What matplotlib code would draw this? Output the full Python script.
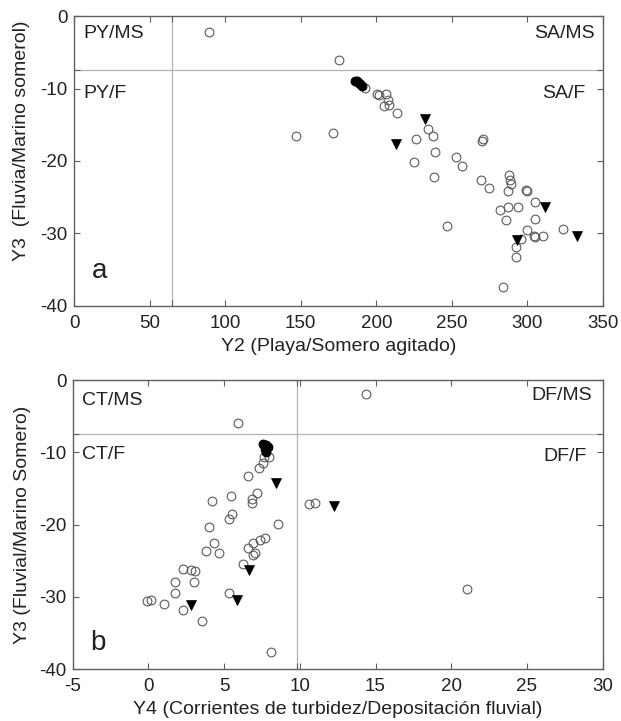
"""Two-panel discriminant scatter: Y3 against Y2 (a) and against Y4 (b)."""
import matplotlib
matplotlib.use("Agg")
import matplotlib.pyplot as plt

plt.rcParams["font.family"] = ["Liberation Sans", "DejaVu Sans"]
plt.rcParams["axes.unicode_minus"] = False  # plain hyphen, like the original

# ---- panel a: Y2 vs Y3 ----
a_open_x = [89.6, 175.4, 147.1, 171.4, 192.6, 200.3, 201.8, 206.5, 208.0, 205.4,
            208.7, 213.5, 234.0, 237.8, 226.5, 270.5, 270.0, 239.0, 225.0, 252.4,
            257.0, 238.3, 269.0, 274.4, 287.9, 288.5, 289.2, 287.4, 299.1, 299.6,
            305.1, 281.5, 286.8, 293.4, 285.9, 305.1, 246.6, 299.6, 304.0, 305.0,
            310.6, 323.8, 295.6, 292.5, 292.5, 284.1]
a_open_y = [-2.2, -6.1, -16.6, -16.1, -9.9, -10.7, -10.9, -10.8, -11.6, -12.4,
            -12.3, -13.4, -15.6, -16.5, -17.0, -16.9, -17.3, -18.8, -20.2, -19.4,
            -20.7, -22.2, -22.6, -23.7, -21.9, -22.6, -23.2, -24.1, -24.0, -24.1,
            -25.6, -26.7, -26.3, -26.4, -28.2, -28.0, -28.9, -29.5, -30.4, -30.5,
            -30.4, -29.4, -30.8, -31.8, -33.3, -37.4]
a_dense_x = [186.0, 187.5, 188.5, 189.5, 190.5]
a_dense_y = [-8.9, -9.0, -9.2, -9.4, -9.6]
a_tri_x = [232.3, 212.7, 311.9, 332.7, 293.0]
a_tri_y = [-14.2, -17.6, -26.4, -30.3, -30.9]

# ---- panel b: Y4 vs Y3 ----
b_open_x = [5.9, 7.64, 7.99, 7.6, 7.3, 6.6, 7.15, 6.86, 6.84, 5.44,
            4.22, 5.5, 5.34, 4.02, 8.54, 4.33, 3.78, 4.64, 6.56, 6.93,
            7.37, 7.70, 7.04, 6.93, 6.27, 2.29, 2.81, 3.08, 1.78, 3.03,
            1.78, 5.34, -0.07, 0.15, 1.03, 2.3, 3.56, 8.08, 14.4, 10.63,
            11.0, 21.06]
b_open_y = [-5.9, -10.6, -10.7, -11.5, -12.2, -13.3, -15.6, -16.4, -17.0, -16.1,
            -16.7, -18.5, -19.2, -20.4, -19.9, -22.5, -23.7, -24.0, -23.2, -22.6,
            -22.1, -21.9, -24.0, -24.2, -25.5, -26.2, -26.3, -26.5, -28.0, -27.9,
            -29.5, -29.5, -30.6, -30.5, -31.0, -31.9, -33.3, -37.6, -2.0, -17.2,
            -17.0, -28.9]
b_dense_x = [7.6, 7.8, 7.9, 7.7, 7.8]
b_dense_y = [-8.8, -9.0, -9.3, -9.6, -9.9]
b_tri_x = [8.4, 12.26, 6.64, 5.87, 2.79]
b_tri_y = [-14.2, -17.5, -26.3, -30.4, -31.2]

# ---- divider lines and quadrant names ----
Y3_CUT = -7.5
A_CUT = 65.0
B_CUT = 9.8
a_quads = ["PY/MS", "PY/F", "SA/MS", "SA/F"]
b_quads = ["CT/MS", "CT/F", "DF/MS", "DF/F"]

EDGE = "#5a5a5a"
LINE = "#b4b4b4"
INK = "#222222"


def draw_panel(ax, ox, oy, dx, dy, tx, ty, cut_x, quads, quad_pos, letter,
               letter_y, xlim, xticks, xlabel, ylabel, ylabel_pos):
    ax.axhline(Y3_CUT, color=LINE, lw=0.9, zorder=1)
    ax.axvline(cut_x, color=LINE, lw=0.9, zorder=1)
    ax.plot(ox, oy, "o", ms=6.3, mfc="none", mec=EDGE, mew=0.8, zorder=3)
    ax.plot(dx, dy, "o", ms=6.3, mfc="black", mec="black", mew=0.8, zorder=3)
    ax.plot(tx, ty, "v", ms=6.5, mfc="black", mec="black", mew=0.5, zorder=4)

    ax.set_xlim(*xlim)
    ax.set_ylim(-40, 0)
    ax.set_xticks(xticks)
    ax.set_yticks([-40, -30, -20, -10, 0])
    ax.set_xticks([cut_x], minor=True)
    ax.set_yticks([Y3_CUT], minor=True)
    ax.tick_params(which="both", direction="in", top=True, right=True,
                   length=4, width=0.8, color="#606060", labelsize=13.5,
                   labelcolor=INK)
    ax.tick_params(axis="x", pad=6.5)
    ax.tick_params(axis="y", pad=4.5)
    for s in ax.spines.values():
        s.set_color("#606060")
        s.set_linewidth(1.0)

    ax.set_xlabel(xlabel, fontsize=14, labelpad=4.5, color=INK)
    ax.set_ylabel(ylabel, fontsize=14, color=INK)
    ax.yaxis.set_label_coords(*ylabel_pos)

    for name, (x, y, ha) in zip(quads, quad_pos):
        ax.text(x, y, name, transform=ax.transAxes, fontsize=14,
                ha=ha, va="center", color=INK)
    ax.text(0.033, letter_y, letter, transform=ax.transAxes, fontsize=20,
            ha="left", va="center", color=INK)


fig = plt.figure(figsize=(6.21, 7.21), dpi=100)
ax_a = fig.add_axes([0.1192, 0.5756, 0.8519, 0.4022])
ax_b = fig.add_axes([0.1170, 0.0721, 0.8535, 0.4008])

draw_panel(ax_a, a_open_x, a_open_y, a_dense_x, a_dense_y, a_tri_x, a_tri_y,
           A_CUT, a_quads,
           [(0.018, 0.94, "left"), (0.018, 0.734, "left"),
            (0.985, 0.94, "right"), (0.967, 0.734, "right")],
           "a", 0.12, (0, 350), range(0, 351, 50),
           "Y2 (Playa/Somero agitado)", "Y3  (Fluvia/Marino somerol)",
           (-0.083, 0.57))
draw_panel(ax_b, b_open_x, b_open_y, b_dense_x, b_dense_y, b_tri_x, b_tri_y,
           B_CUT, b_quads,
           [(0.018, 0.93, "left"), (0.018, 0.744, "left"),
            (0.98, 0.946, "right"), (0.969, 0.737, "right")],
           "b", 0.09, (-5, 30), range(-5, 31, 5),
           "Y4 (Corrientes de turbidez/Depositación fluvial)",
           "Y3 (Fluvial/Marino Somero)", (-0.079, 0.5))

fig.savefig("out.png", dpi=100)
